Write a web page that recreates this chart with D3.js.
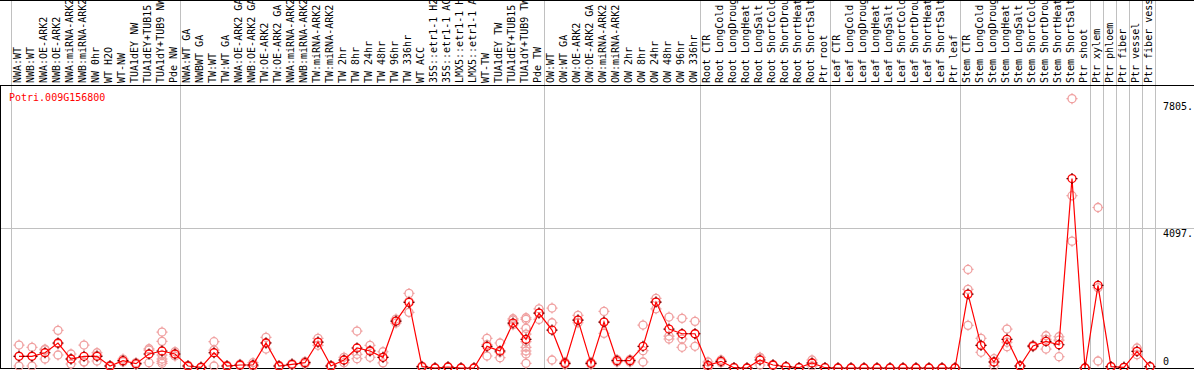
<!DOCTYPE html>
<html><head><meta charset="utf-8">
<script src="https://cdn.jsdelivr.net/npm/d3@7"></script>
<style>html,body{margin:0;padding:0;background:#fff;}svg{display:block;}</style>
</head><body>
<svg id="c" width="1194" height="370"></svg>
<script>
const title = "Potri.009G156800";
const categories = ["NWA:WT","NWB:WT","NWA:OE-ARK2","NWB:OE-ARK2","NWA:miRNA-ARK2","NWB:miRNA-ARK2","NW 0hr","WT H2O","WT-NW","TUA1dEY NW","TUA1dEY+TUB15 NW","TUA1dY+TUB9 NW","Pde NW",
"NWA:WT GA","NWBWT GA","TW:WT","TW:WT GA","NWA:OE-ARK2 GA","NWB:OE-ARK2 GA","TW:OE-ARK2","TW:OE-ARK2 GA","NWA:miRNA-ARK2","NWB:miRNA-ARK2","TW:miRNA-ARK2","TW:miRNA-ARK2","TW 2hr","TW 8hr","TW 24hr","TW 48hr","TW 96hr","TW 336hr","WT ACC","35S::etr1-1 H2O","35S::etr1-1 ACC","LMX5::etr1-1 H2O","LMX5::etr1-1 ACC","WT-TW","TUA1dEY TW","TUA1dEY+TUB15 TW","TUA1dY+TUB9 TW","Pde TW",
"OW:WT","OW:WT GA","OW:OE-ARK2","OW:OE-ARK2 GA","OW:miRNA-ARK2","OW:miRNA-ARK2","OW 2hr","OW 8hr","OW 24hr","OW 48hr","OW 96hr","OW 336hr",
"Root CTR","Root LongCold","Root LongDrought","Root LongHeat","Root LongSalt","Root ShortCold","Root ShortDrought","Root ShortHeat","Root ShortSalt","Ptr root",
"Leaf CTR","Leaf LongCold","Leaf LongDrought","Leaf LongHeat","Leaf LongSalt","Leaf ShortCold","Leaf ShortDrought","Leaf ShortHeat","Leaf ShortSalt","Ptr leaf",
"Stem CTR","Stem LongCold","Stem LongDrought","Stem LongHeat","Stem LongSalt","Stem ShortCold","Stem ShortDrought","Stem ShortHeat","Stem ShortSalt","Ptr shoot",
"Ptr xylem","Ptr phloem","Ptr fiber","Ptr vessel","Ptr fiber vessel"];
// index (count of columns before) where a group separator line is drawn
const groupBreaks = [0,13,41,53,63,73,83,84,85,86,87,88];
const means = [342,342,447,731,263,342,342,58,213,126,409,497,409,
58,20,447,58,88,88,731,58,108,155,760,58,234,585,497,313,1374,1920,38,0,29,0,0,634,497,1315,839,1608,
1111,137,1403,137,1345,213,213,634,1929,1140,1003,1003,
79,196,9,0,234,88,38,9,146,9,
0,0,0,0,0,0,0,0,0,0,
2163,664,175,839,58,643,780,681,5545,0,
2417,38,20,488,38];
const replicates = [[672,350,58],[605,350,58],[530,550,263],[1102,710,380],[409,263,117],[672,175,180],[447,370,205],[40,60,75],[260,200,180],[160,110,110],[564,526,155],[1052,780,380,263,196,137],[476,400,350],
[40,58,76],[10,20,30],[769,526,58],[40,58,76],[110,88,70],[155,60,50],[897,741,555],[40,58,76],[130,108,86],[190,155,120],[868,750,664],[40,58,76],[313,234,155],[1081,400,272],[664,515,313],[476,313,150],[1432,1374,1316],[2183,1950,1628],[20,38,56],[0,0,0],[29,29,29],[0,0,0],[0,0,0],[868,683,351],[731,460,301],[1441,1403,1266],[1470,1423,1160,994,769,605,497,409,137],[1733,1608,1423],
[1754,1324,234],[170,137,104],[1540,1403,1324],[170,137,104],[1657,1345,1014],[250,213,176],[250,213,176],[1257,506,175],[2037,1929,1733],[1491,935,848],[1453,848,605],[1365,1003,634],
[175,40,20],[234,196,158],[0,9,18],[0,0,0],[313,300,88],[88,100,76],[38,38,38],[9,9,9],[234,146,58],[9,9,9],
[0,0,0],[0,0,0],[0,0,0],[0,0,0],[0,0,0],[0,0,0],[0,0,0],[0,0,0],[0,0,0],[0,0,0],
[2885,2300,1248],[868,664,459],[272,175,58],[1140,754,623],[58,58,58],[664,643,620],[944,840,555],[915,818,330],[7883,5042,3712],[0,0,0],
[4697,2349,205],[38,38,38],[20,20,20],[585,488,390],[38,38,38]];
const tickValues = [7805, 4097, 0];
const tickLabels = ["7805.", "4097.", "0"];

const W = 1194, H = 370;
const svg = d3.select("#c");
const font = "'DejaVu Sans Mono', 'Liberation Mono', monospace";
const plotTop = 85.5, plotBottom = 368.5;

const x = d3.scaleBand().domain(d3.range(categories.length)).range([11, 1155]).padding(0);
const y = d3.scaleLinear().domain([0, 7805]).range([368, 101.3]);
const px = i => x(i) + 8;

svg.append("rect").attr("width", W).attr("height", H).attr("fill", "#fff");

// grid line
svg.append("line").attr("x1", 0).attr("x2", W)
  .attr("y1", Math.round(y(4097)) + 0.5).attr("y2", Math.round(y(4097)) + 0.5)
  .attr("stroke", "#c0c0c0").attr("stroke-width", 1);

// group separators
svg.selectAll("line.sep").data(groupBreaks).join("line").attr("class", "sep")
  .attr("x1", d => (d < categories.length ? x(d) : x(d - 1) + x.bandwidth()) + 0.5)
  .attr("x2", d => (d < categories.length ? x(d) : x(d - 1) + x.bandwidth()) + 0.5)
  .attr("y1", 0).attr("y2", plotBottom)
  .attr("stroke", "#c0c0c0").attr("stroke-width", 1);

// frame lines
svg.append("line").attr("x1", 0).attr("x2", W).attr("y1", 0.5).attr("y2", 0.5).attr("stroke", "#000");
svg.append("line").attr("x1", 0).attr("x2", W).attr("y1", plotTop).attr("y2", plotTop).attr("stroke", "#000");
svg.append("line").attr("x1", 0).attr("x2", W).attr("y1", plotBottom).attr("y2", plotBottom).attr("stroke", "#000");
svg.append("line").attr("x1", 0.5).attr("x2", 0.5).attr("y1", plotTop).attr("y2", plotBottom).attr("stroke", "#000");

// category labels
svg.selectAll("text.cat").data(categories).join("text").attr("class", "cat")
  .attr("transform", (d, i) => `translate(${px(i) + 1.5},83) rotate(-90)`)
  .attr("font-family", font).attr("font-size", 10).attr("fill", "#000")
  .text(d => d);

// title
svg.append("text").attr("x", 9).attr("y", 100.5).attr("font-family", font)
  .attr("font-size", 10).attr("fill", "#ff0000").text(title);

// y tick labels
svg.selectAll("text.tick").data(tickValues).join("text").attr("class", "tick")
  .attr("x", 1163).attr("y", d => Math.min(y(d) + 8.5, 365))
  .attr("font-family", font).attr("font-size", 10).attr("fill", "#000")
  .text((d, i) => tickLabels[i]);

function marker(g, color, tickColor) {
  g.append("circle").attr("r", 4).attr("fill", "none").attr("stroke", color).attr("stroke-width", 1.3);
  g.append("path").attr("d", "M0,-5.5V-3.8M0,3.8V5.5M-5.5,0H-3.8M3.8,0H5.5")
    .attr("stroke", tickColor).attr("stroke-width", 1.2);
}

// replicates
const reps = [];
replicates.forEach((arr, i) => arr.forEach(v => reps.push({i, v})));
svg.selectAll("g.rep").data(reps).join("g").attr("class", "rep")
  .attr("transform", d => `translate(${px(d.i)},${y(d.v)})`)
  .each(function () { marker(d3.select(this), "#f0a0a0", "#f0a0a0"); });

// mean line
svg.append("path").datum(means)
  .attr("d", d3.line().x((d, i) => px(i)).y(d => y(d)))
  .attr("fill", "none").attr("stroke", "#ff0000").attr("stroke-width", 1.2);

// mean markers
svg.selectAll("g.mean").data(means).join("g").attr("class", "mean")
  .attr("transform", (d, i) => `translate(${px(i)},${y(d)})`)
  .each(function () { marker(d3.select(this), "#ff0000", "#600000"); });
</script>
</body></html>
